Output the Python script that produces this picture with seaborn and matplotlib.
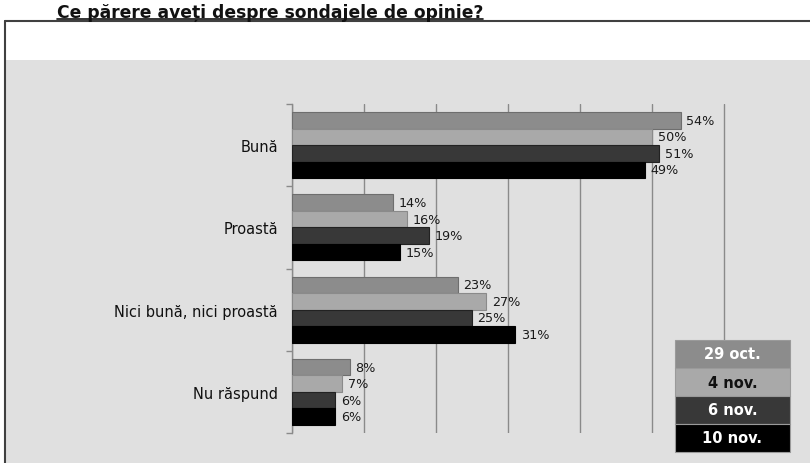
import matplotlib
matplotlib.use("Agg")
import matplotlib.pyplot as plt
from matplotlib.patches import Rectangle
from matplotlib.lines import Line2D
import seaborn as sns
import pandas as pd

# Survey answers and the four poll dates
categories = ["Bună", "Proastă", "Nici bună, nici proastă", "Nu răspund"]
series = ["29 oct.", "4 nov.", "6 nov.", "10 nov."]
v_29oct = [54, 14, 23, 8]
v_4nov = [50, 16, 27, 7]
v_6nov = [51, 19, 25, 6]
v_10nov = [49, 15, 31, 6]

colors = ["#8c8c8c", "#a9a9a9", "#383838", "#000000"]
edge_colors = ["#6e6e6e", "#8a8a8a", "#222222", "#000000"]
legend_text_colors = ["white", "#111111", "white", "white"]

values = [v_29oct, v_4nov, v_6nov, v_10nov]
rows = []
for s, vals in zip(series, values):
    for c, v in zip(categories, vals):
        rows.append({"Răspuns": c, "Data": s, "Procent": v})
df = pd.DataFrame(rows)

sns.set_style("white")
plt.rcParams["font.family"] = ["DejaVu Sans"]

W, H = 810, 464
fig = plt.figure(figsize=(W / 100, H / 100), dpi=100)
fig.patch.set_facecolor("white")

def fx(px):
    return px / W

def fy(py):
    return 1 - py / H

# Gray panel and frame lines
bg = "#e0e0e0"
fig.patches.append(Rectangle((fx(6), 0), 1, fy(61), transform=fig.transFigure,
                             facecolor=bg, edgecolor="none", zorder=-2))
fig.lines.append(Line2D([fx(5), 1], [fy(22), fy(22)], transform=fig.transFigure,
                        color="#404040", lw=1.5, zorder=-1))
fig.lines.append(Line2D([fx(5), fx(5)], [fy(22), 0], transform=fig.transFigure,
                        color="#404040", lw=1.5, zorder=-1))

# Title with underline
title = fig.text(fx(57), fy(18), "Ce părere aveți despre sondajele de opinie?",
                 fontsize=12.3, fontweight="bold", color="#111111",
                 ha="left", va="baseline")

ax_left, ax_top, ax_bottom = 292, 105, 434
ax_right = ax_left + 72 * 7
ax = fig.add_axes([fx(ax_left), fy(ax_bottom), fx(ax_right - ax_left),
                   (ax_bottom - ax_top) / H])
ax.set_facecolor("none")

sns.barplot(data=df, y="Răspuns", x="Procent", hue="Data", order=categories,
            hue_order=series, palette=colors, orient="h", width=0.8,
            ax=ax, legend=False, zorder=3)

for cont, ec, vals in zip(ax.containers, edge_colors, values):
    for bar in cont:
        bar.set_edgecolor(ec)
        bar.set_linewidth(0.8)
    ax.bar_label(cont, labels=[f"{v}%" for v in vals], padding=4,
                 fontsize=9.2, color="#1a1a1a")

ax.set_xlim(0, 70)
ax.set_ylim(3.5, -0.5)
ax.set_xticks(range(0, 61, 10))
ax.set_xticklabels([])
ax.tick_params(axis="x", length=0)
ax.grid(axis="x", color="#8a8a8a", lw=1, zorder=0)
ax.grid(axis="y", visible=False)
ax.set_axisbelow(True)

ax.set_yticks(range(len(categories)))
ax.set_yticklabels(categories, fontsize=10.5, color="#111111")
ax.tick_params(axis="y", which="major", length=0, pad=10)
ax.set_yticks([-0.5, 0.5, 1.5, 2.5, 3.5], minor=True)
ax.tick_params(axis="y", which="minor", length=4, color="#8a8a8a", width=1,
               direction="out", left=True)
ax.set_xlabel("")
ax.set_ylabel("")
for side in ["top", "right", "bottom"]:
    ax.spines[side].set_visible(False)
ax.spines["left"].set_color("#8a8a8a")
ax.spines["left"].set_linewidth(1)

# Legend as a stacked block of labelled swatches
lx0, lx1, ly0, row_h = 675, 790, 341, 28
for i, (s, c, tc) in enumerate(zip(series, colors, legend_text_colors)):
    y_top = ly0 + i * row_h
    fig.patches.append(Rectangle((fx(lx0), fy(y_top + row_h)), fx(lx1 - lx0),
                                 row_h / H, transform=fig.transFigure,
                                 facecolor=c, edgecolor="#9a9a9a", lw=0.8,
                                 zorder=5))
    fig.text(fx((lx0 + lx1) / 2), fy(y_top + row_h / 2), s, ha="center",
             va="center", fontsize=10.5, fontweight="bold", color=tc, zorder=6)

# Underline the title
fig.canvas.draw()
bb = title.get_window_extent().transformed(fig.transFigure.inverted())
fig.lines.append(Line2D([bb.x0, bb.x1], [fy(20), fy(20)],
                        transform=fig.transFigure, color="#111111", lw=1.2))

fig.savefig("out.png", dpi=100, facecolor="white")
